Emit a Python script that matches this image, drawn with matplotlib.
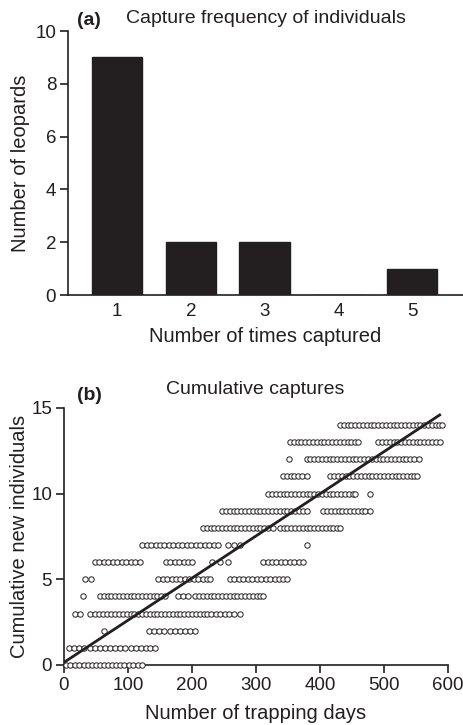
import matplotlib
matplotlib.use("Agg")
import matplotlib.pyplot as plt
import numpy as np

plt.rcParams["font.family"] = ["Liberation Sans", "DejaVu Sans"]

INK = "#231f20"

# panel (a): capture frequency
times_captured = [1, 2, 3, 4, 5]
n_leopards = [9, 2, 2, 0, 1]

# panel (b): cumulative new individuals vs trapping days (one list per level)
days_at_0 = [3, 10, 17, 24, 31, 37, 43, 50, 56, 62, 68, 75, 81, 87, 94, 101, 108, 115, 122]
days_at_1 = [8, 16, 24, 32, 40, 48, 56, 64, 72, 80, 88, 96, 104, 112, 120, 128, 135, 142]
days_at_2 = [63, 133, 141, 149, 157, 165, 173, 181, 189, 197, 205]
days_at_3 = [17, 25, 41, 48, 55, 61, 67, 73, 80, 86, 92, 98, 104, 110, 116, 122, 128, 134,
             140, 146, 152, 158, 164, 170, 176, 182, 188, 194, 200, 206, 212, 218, 224, 230,
             237, 244, 251, 258, 266, 275]
days_at_4 = [30, 56, 62, 68, 74, 80, 86, 92, 98, 104, 110, 116, 122, 128, 134, 140, 146, 152,
             158, 178, 186, 194, 205, 211, 217, 223, 229, 235, 241, 247, 253, 259, 265, 271,
             277, 283, 289, 295, 301, 307, 311]
days_at_5 = [33, 42, 147, 154, 161, 168, 175, 182, 189, 196, 203, 210, 217, 224, 228, 259,
             266, 273, 280, 287, 294, 301, 308, 315, 322, 329, 336, 342, 348]
days_at_6 = [48, 55, 62, 69, 76, 83, 90, 97, 104, 111, 119, 159, 166, 173, 180, 187, 194, 200,
             231, 243, 256, 311, 318, 325, 332, 339, 346, 353, 360, 367, 373]
days_at_7 = [122, 129, 136, 143, 150, 157, 164, 171, 178, 185, 192, 199, 206, 213, 220, 227,
             234, 241, 256, 266, 275, 379]
days_at_8 = [217, 223, 229, 235, 241, 247, 253, 259, 265, 271, 277, 283, 289, 295, 301, 307,
             313, 319, 327, 337, 343, 349, 355, 361, 367, 373, 379, 385, 391, 397, 403, 409,
             415, 421, 427, 431]
days_at_9 = [247, 253, 259, 265, 271, 277, 283, 289, 295, 301, 307, 313, 319, 325, 331, 337,
             343, 349, 355, 361, 367, 373, 379, 405, 411, 417, 423, 429, 435, 441, 447, 453,
             459, 465, 471, 478]
days_at_10 = [319, 325, 331, 337, 343, 349, 355, 361, 367, 373, 379, 385, 391, 397, 403, 409,
              415, 421, 427, 433, 439, 445, 451, 455, 478]
days_at_11 = [342, 348, 354, 360, 366, 372, 379, 416, 422, 428, 434, 440, 446, 452, 458, 464,
              470, 476, 482, 488, 494, 500, 506, 512, 518, 524, 530, 536, 542, 547, 552]
days_at_12 = [352, 379, 385, 391, 397, 403, 409, 415, 421, 427, 433, 439, 445, 451, 457, 463,
              469, 475, 481, 487, 493, 499, 505, 511, 517, 523, 529, 535, 541, 547, 555]
days_at_13 = [353, 359, 365, 371, 377, 383, 389, 395, 401, 407, 413, 419, 425, 431, 437, 443,
              449, 455, 459, 491, 497, 503, 509, 515, 521, 527, 533, 539, 545, 551, 557, 563,
              569, 575, 581, 587]
days_at_14 = [431, 437, 443, 449, 455, 461, 467, 473, 479, 485, 491, 497, 503, 509, 515, 521,
              527, 533, 539, 545, 551, 557, 563, 569, 575, 581, 586, 591]

levels = [days_at_0, days_at_1, days_at_2, days_at_3, days_at_4, days_at_5, days_at_6,
          days_at_7, days_at_8, days_at_9, days_at_10, days_at_11, days_at_12, days_at_13,
          days_at_14]

# fitted line
fit_days = [2, 587]
fit_intercept = 0.15
fit_slope = 0.0246


def style_axes(ax):
    for side in ("top", "right"):
        ax.spines[side].set_visible(False)
    for side in ("left", "bottom"):
        ax.spines[side].set_linewidth(1.2)
        ax.spines[side].set_color(INK)
    ax.tick_params(colors=INK, labelsize=13.5, width=1.2, length=6, direction="out")


fig = plt.figure(figsize=(4.63, 7.25), dpi=100)

# ---- panel (a)
ax1 = fig.add_axes([0.1469, 0.5931, 0.853, 0.3641])
ax1.bar(times_captured, n_leopards, width=0.68, color=INK, edgecolor=INK)
ax1.set_xlim(0.335, 5.69)
ax1.set_ylim(0, 10)
ax1.set_yticks([0, 2, 4, 6, 8, 10])
ax1.set_xticks(times_captured)
style_axes(ax1)
ax1.tick_params(axis="y", pad=2.5)
ax1.tick_params(axis="x", length=0, pad=6)
ax1.set_ylabel("Number of leopards", fontsize=14.5, color=INK, labelpad=4)
ax1.set_xlabel("Number of times captured", fontsize=14.5, color=INK, labelpad=5)
fig.text(0.166, 0.972, "(a)", fontsize=14, fontweight="bold", color=INK, va="center")
fig.text(0.575, 0.975, "Capture frequency of individuals", fontsize=14, color=INK,
         ha="center", va="center")

# ---- panel (b)
ax2 = fig.add_axes([0.1382, 0.0828, 0.8294, 0.3545])
for k, days in enumerate(levels):
    ax2.scatter(days, np.full(len(days), k), s=15, facecolor="white", edgecolor=INK,
                linewidth=0.7, clip_on=False, zorder=3)
fit_x = np.array(fit_days)
ax2.plot(fit_x, fit_intercept + fit_slope * fit_x, color=INK, linewidth=2.0, zorder=4)
ax2.set_xlim(0, 600)
ax2.set_ylim(0, 15)
ax2.set_xticks([0, 100, 200, 300, 400, 500, 600])
ax2.set_yticks([0, 5, 10, 15])
style_axes(ax2)
ax2.tick_params(axis="y", pad=2.5)
ax2.tick_params(axis="x", pad=3)
ax2.set_ylabel("Cumulative new individuals", fontsize=14.5, color=INK, labelpad=2)
ax2.set_xlabel("Number of trapping days", fontsize=14.5, color=INK, labelpad=7)
fig.text(0.166, 0.454, "(b)", fontsize=14, fontweight="bold", color=INK, va="center")
fig.text(0.551, 0.463, "Cumulative captures", fontsize=14, color=INK,
         ha="center", va="center")

fig.savefig("out.png", dpi=100)
